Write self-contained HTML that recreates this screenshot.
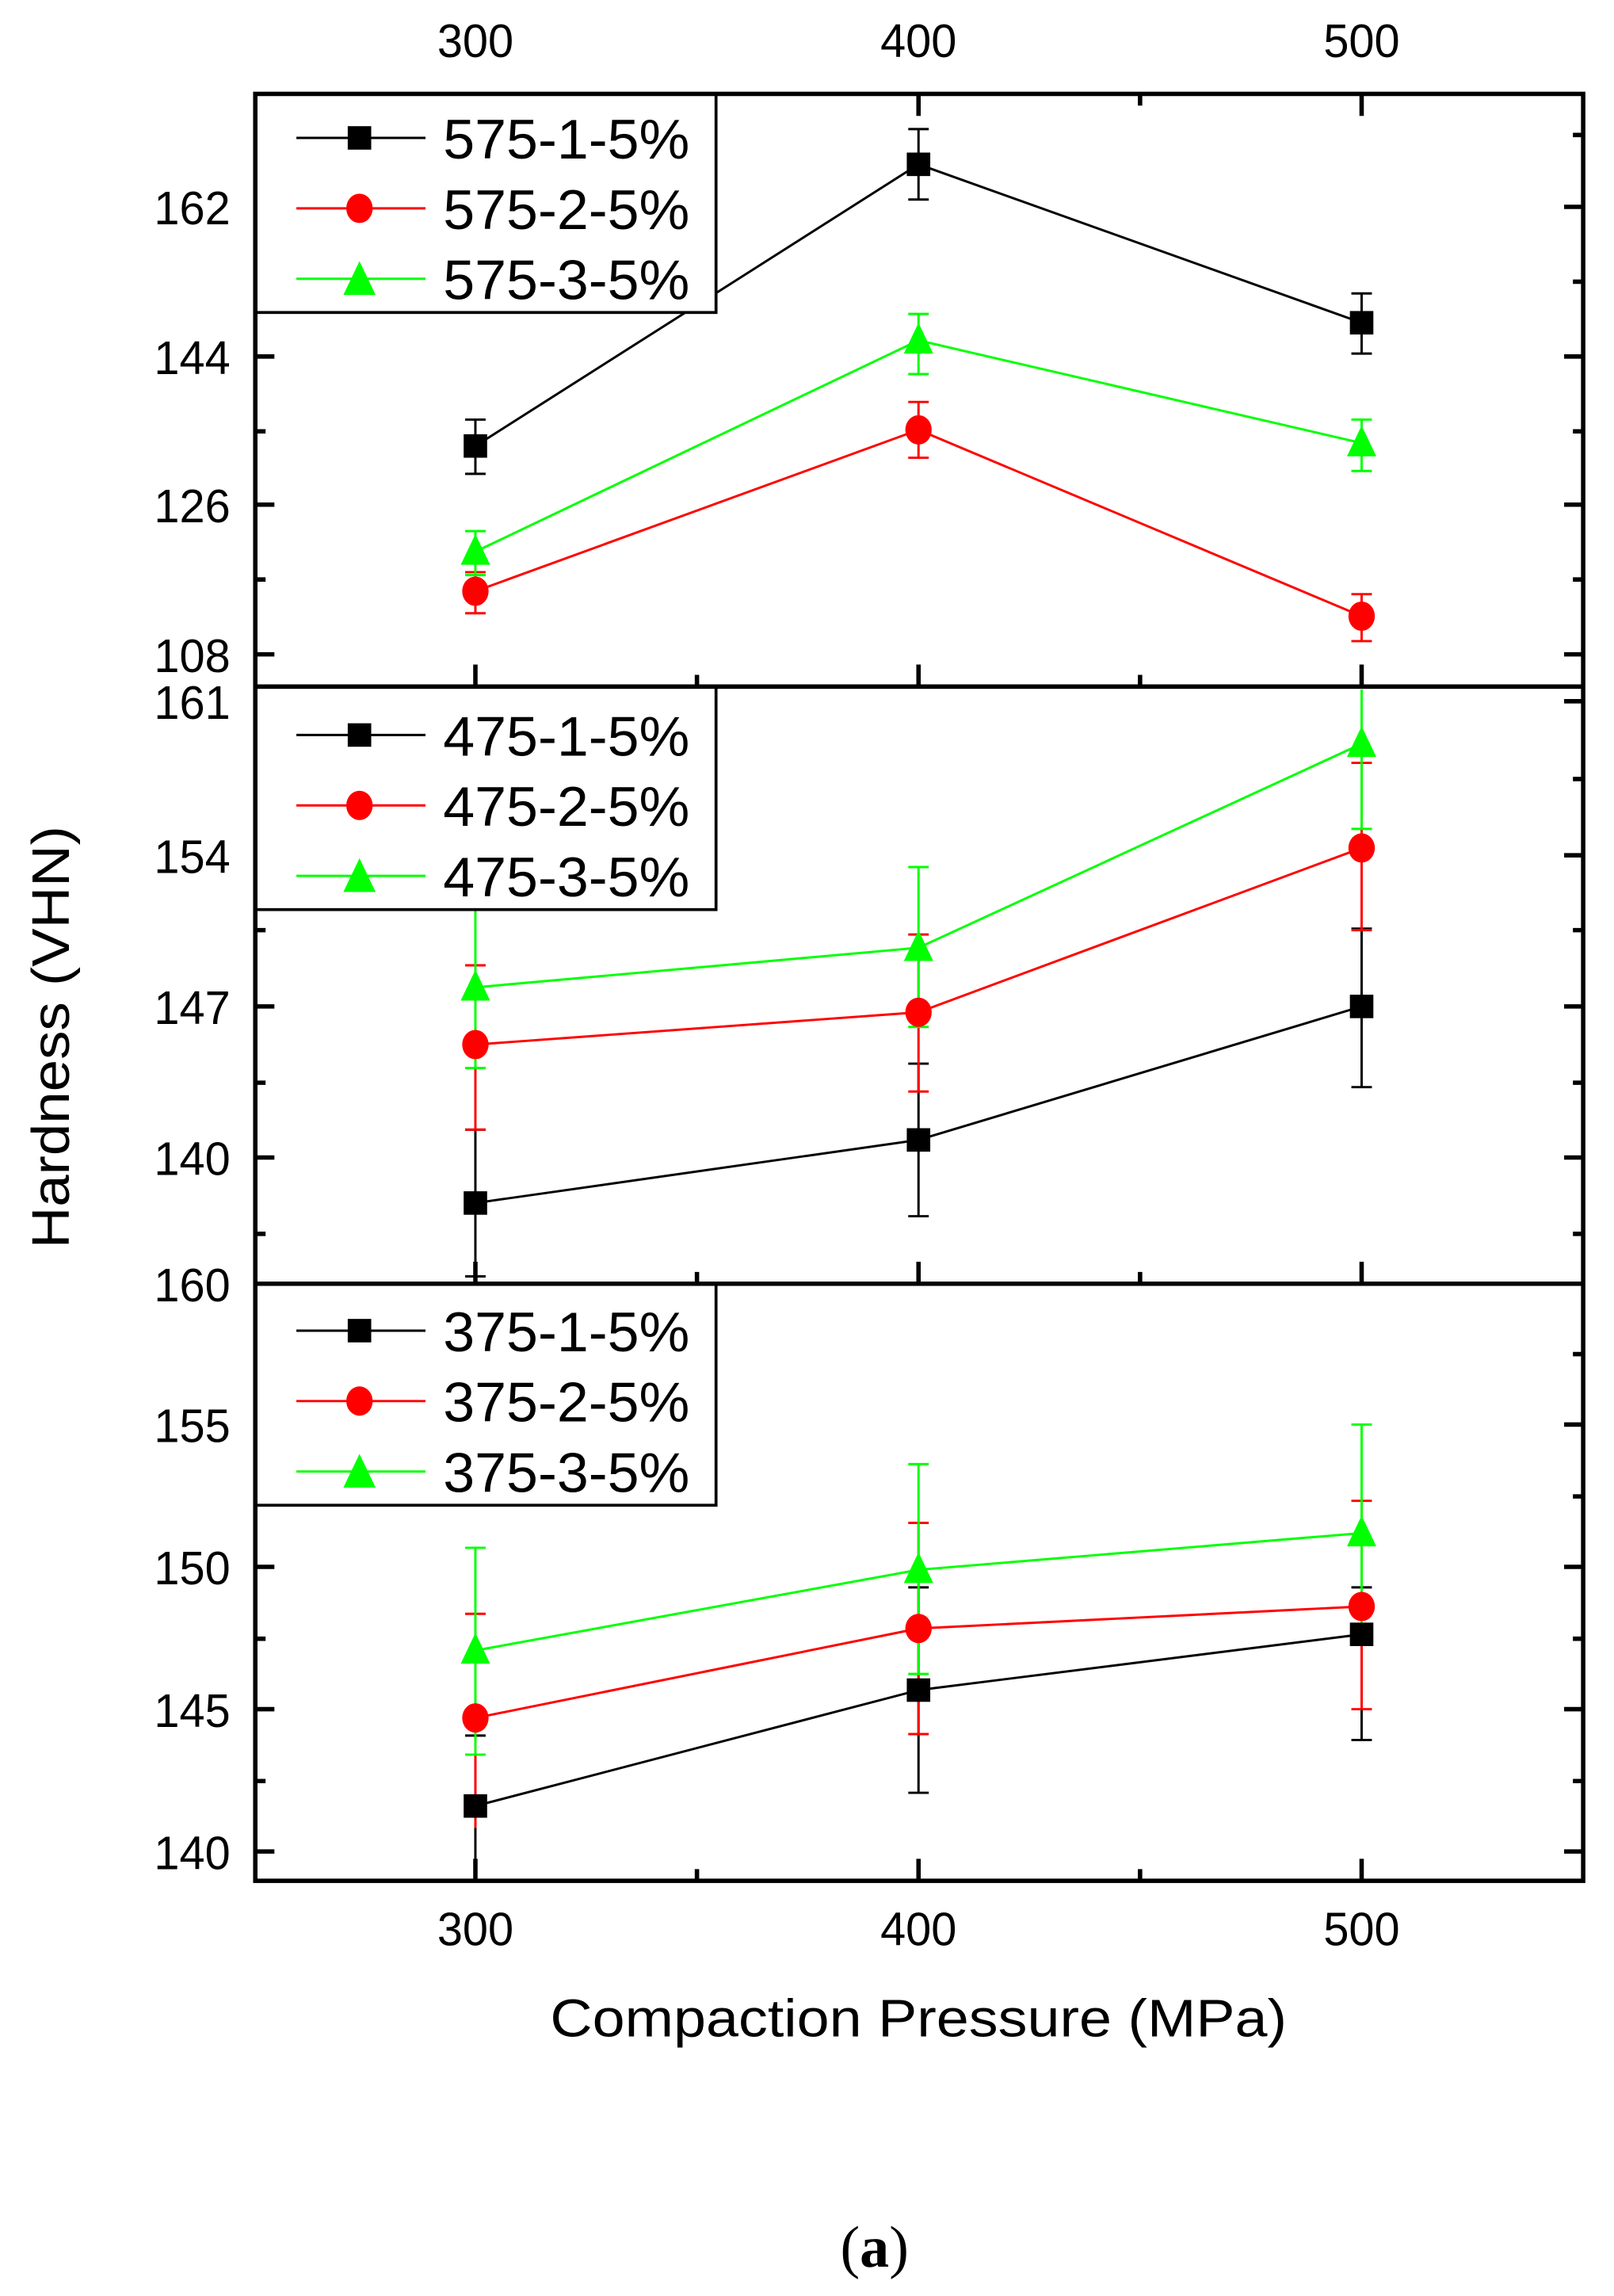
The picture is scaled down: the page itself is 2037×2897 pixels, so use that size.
<!DOCTYPE html>
<html><head><meta charset="utf-8"><style>html,body{margin:0;padding:0;background:#fff}svg{display:block}</style></head><body>
<svg width="2037" height="2897" viewBox="0 0 1100 1565" preserveAspectRatio="none" xmlns="http://www.w3.org/2000/svg" font-family="Liberation Sans, sans-serif">
<rect width="1100" height="1565" fill="#fff"/>
<!-- top labels -->
<g font-size="32" text-anchor="middle">
<text x="324" y="39" textLength="52" lengthAdjust="spacingAndGlyphs">300</text>
<text x="626" y="39" textLength="52" lengthAdjust="spacingAndGlyphs">400</text>
<text x="928" y="39" textLength="52" lengthAdjust="spacingAndGlyphs">500</text>
<text x="324" y="1326" textLength="52" lengthAdjust="spacingAndGlyphs">300</text>
<text x="626" y="1326" textLength="52" lengthAdjust="spacingAndGlyphs">400</text>
<text x="928" y="1326" textLength="52" lengthAdjust="spacingAndGlyphs">500</text>
</g>
<!-- y tick labels -->
<g font-size="32" text-anchor="end">
<text x="157" y="153" textLength="52" lengthAdjust="spacingAndGlyphs">162</text>
<text x="157" y="255" textLength="52" lengthAdjust="spacingAndGlyphs">144</text>
<text x="157" y="356" textLength="52" lengthAdjust="spacingAndGlyphs">126</text>
<text x="157" y="458" textLength="52" lengthAdjust="spacingAndGlyphs">108</text>
<text x="157" y="490" textLength="52" lengthAdjust="spacingAndGlyphs">161</text>
<text x="157" y="595" textLength="52" lengthAdjust="spacingAndGlyphs">154</text>
<text x="157" y="698" textLength="52" lengthAdjust="spacingAndGlyphs">147</text>
<text x="157" y="801" textLength="52" lengthAdjust="spacingAndGlyphs">140</text>
<text x="157" y="887" textLength="52" lengthAdjust="spacingAndGlyphs">160</text>
<text x="157" y="983" textLength="52" lengthAdjust="spacingAndGlyphs">155</text>
<text x="157" y="1080" textLength="52" lengthAdjust="spacingAndGlyphs">150</text>
<text x="157" y="1177" textLength="52" lengthAdjust="spacingAndGlyphs">145</text>
<text x="157" y="1274" textLength="52" lengthAdjust="spacingAndGlyphs">140</text>
</g>
<text x="626" y="1388" font-size="36" text-anchor="middle" textLength="502" lengthAdjust="spacingAndGlyphs">Compaction Pressure (MPa)</text>
<text transform="translate(47,707) rotate(-90)" font-size="36" text-anchor="middle" textLength="288" lengthAdjust="spacingAndGlyphs">Hardness (VHN)</text>
<text x="596" y="1545" font-size="40" text-anchor="middle" font-family="Liberation Serif, serif">(<tspan font-weight="bold">a</tspan>)</text>

<!-- ticks -->
<g stroke="#000" stroke-width="3">
<!-- left/right major & minor -->
<path d="M174 141h13M174 243h13M174 344h13M174 446h13M174 92h7M174 192h7M174 294h7M174 395h7
M1079 141h-13M1079 243h-13M1079 344h-13M1079 446h-13M1079 92h-7M1079 192h-7M1079 294h-7M1079 395h-7
M174 478h13M174 583h13M174 686h13M174 789h13M174 531h7M174 634h7M174 738h7M174 841h7
M1079 478h-13M1079 583h-13M1079 686h-13M1079 789h-13M1079 531h-7M1079 634h-7M1079 738h-7M1079 841h-7
M174 971h13M174 1068h13M174 1165h13M174 1262h13M174 923h7M174 1020h7M174 1117h7M174 1214h7
M1079 971h-13M1079 1068h-13M1079 1165h-13M1079 1262h-13M1079 923h-7M1079 1020h-7M1079 1117h-7M1079 1214h-7
M324 64v15M626 64v15M928 64v15M475 64v8M777 64v8
M324 468v-15M626 468v-15M928 468v-15M475 468v-8M777 468v-8
M324 875v-15M626 875v-15M928 875v-15M475 875v-8M777 875v-8
M324 1282v-15M626 1282v-15M928 1282v-15M475 1282v-8M777 1282v-8"/>
</g>

<!-- series panel 1 -->
<g stroke-width="1.6" fill="none">
<path d="M324 304L626 112L928 220" stroke="#000"/>
<path d="M324 403L626 293L928 420" stroke="#f00"/>
<path d="M324 376L626 232L928 302" stroke="#0f0"/>
<path d="M324 820L626 777L928 686" stroke="#000"/>
<path d="M324 712L626 690L928 578" stroke="#f00"/>
<path d="M324 673L626 646L928 507" stroke="#0f0"/>
<path d="M324 1231L626 1152L928 1114" stroke="#000"/>
<path d="M324 1171L626 1110L928 1095" stroke="#f00"/>
<path d="M324 1125L626 1070L928 1045" stroke="#0f0"/>
</g>
<!-- error bars -->
<g stroke-width="1.6" fill="none">
<g stroke="#000"><path d="M324 286V323M317 286h14M317 323h14 M626 88V136M619 88h14M619 136h14 M928 200V241M921 200h14M921 241h14
M324 770V870M317 770h14M317 870h14 M626 725V829M619 725h14M619 829h14 M928 633V741M921 633h14M921 741h14
M324 1183V1280M317 1183h14 M626 1082V1222M619 1082h14M619 1222h14 M928 1082V1186M921 1082h14M921 1186h14"/></g>
<g stroke="#f00"><path d="M324 390V418M317 390h14M317 418h14 M626 274V312M619 274h14M619 312h14 M928 405V437M921 405h14M921 437h14
M324 658V770M317 658h14M317 770h14 M626 637V744M619 637h14M619 744h14 M928 520V634M921 520h14M921 634h14
M324 1100V1246M317 1100h14 M626 1038V1182M619 1038h14M619 1182h14 M928 1023V1165M921 1023h14M921 1165h14"/></g>
<g stroke="#0f0"><path d="M324 362V392M317 362h14M317 392h14 M626 214V255M619 214h14M619 255h14 M928 286V321M921 286h14M921 321h14
M324 620V728M317 728h14 M626 591V700M619 591h14M619 700h14 M928 470V565M921 565h14
M324 1055V1196M317 1055h14M317 1196h14 M626 998V1141M619 998h14M619 1141h14 M928 971V1116M921 971h14M921 1116h14"/></g>
</g>
<!-- markers -->
<g fill="#000">
<rect x="316" y="296" width="16" height="16"/><rect x="618" y="104" width="16" height="16"/><rect x="920" y="212" width="16" height="16"/>
<rect x="316" y="812" width="16" height="16"/><rect x="618" y="769" width="16" height="16"/><rect x="920" y="678" width="16" height="16"/>
<rect x="316" y="1223" width="16" height="16"/><rect x="618" y="1144" width="16" height="16"/><rect x="920" y="1106" width="16" height="16"/>
</g>
<g fill="#f00">
<ellipse cx="324" cy="403" rx="9" ry="10"/><ellipse cx="626" cy="293" rx="9" ry="10"/><ellipse cx="928" cy="420" rx="9" ry="10"/>
<ellipse cx="324" cy="712" rx="9" ry="10"/><ellipse cx="626" cy="690" rx="9" ry="10"/><ellipse cx="928" cy="578" rx="9" ry="10"/>
<ellipse cx="324" cy="1171" rx="9" ry="10"/><ellipse cx="626" cy="1110" rx="9" ry="10"/><ellipse cx="928" cy="1095" rx="9" ry="10"/>
</g>
<g fill="#0f0">
<path d="M324 364l-10 21h20z M626 220l-10 21h20z M928 290l-10 21h20z M324 661l-10 21h20z M626 634l-10 21h20z M928 495l-10 21h20z M324 1113l-10 21h20z M626 1058l-10 21h20z M928 1033l-10 21h20z"/>
</g>

<!-- legends -->
<g>
<rect x="174" y="64" width="314" height="149" fill="#fff" stroke="#000" stroke-width="2"/>
<rect x="174" y="468" width="314" height="152" fill="#fff" stroke="#000" stroke-width="2"/>
<rect x="174" y="875" width="314" height="151" fill="#fff" stroke="#000" stroke-width="2"/>
</g>
<g stroke-width="1.6">
<path d="M202 94h88M202 501h88M202 907h88" stroke="#000"/>
<path d="M202 142h88M202 549h88M202 955h88" stroke="#f00"/>
<path d="M202 190h88M202 597h88M202 1003h88" stroke="#0f0"/>
</g>
<g>
<rect x="237" y="86" width="16" height="16"/><rect x="237" y="493" width="16" height="16"/><rect x="237" y="899" width="16" height="16"/>
<ellipse cx="245" cy="142" rx="9" ry="10" fill="#f00"/><ellipse cx="245" cy="549" rx="9" ry="10" fill="#f00"/><ellipse cx="245" cy="955" rx="9" ry="10" fill="#f00"/>
<path d="M245 178l-11 23h22z M245 585l-11 23h22z M245 991l-11 23h22z" fill="#0f0"/>
</g>
<g font-size="38">
<text x="302" y="108" textLength="168" lengthAdjust="spacingAndGlyphs">575-1-5%</text>
<text x="302" y="156" textLength="168" lengthAdjust="spacingAndGlyphs">575-2-5%</text>
<text x="302" y="204" textLength="168" lengthAdjust="spacingAndGlyphs">575-3-5%</text>
<text x="302" y="515" textLength="168" lengthAdjust="spacingAndGlyphs">475-1-5%</text>
<text x="302" y="563" textLength="168" lengthAdjust="spacingAndGlyphs">475-2-5%</text>
<text x="302" y="611" textLength="168" lengthAdjust="spacingAndGlyphs">475-3-5%</text>
<text x="302" y="921" textLength="168" lengthAdjust="spacingAndGlyphs">375-1-5%</text>
<text x="302" y="969" textLength="168" lengthAdjust="spacingAndGlyphs">375-2-5%</text>
<text x="302" y="1017" textLength="168" lengthAdjust="spacingAndGlyphs">375-3-5%</text>
</g>
<!-- frame -->
<g stroke="#000" stroke-width="3" fill="none">
<rect x="174" y="64" width="905" height="1218"/>
<path d="M174 468H1079M174 875H1079"/>
</g>
</svg>
</body></html>
